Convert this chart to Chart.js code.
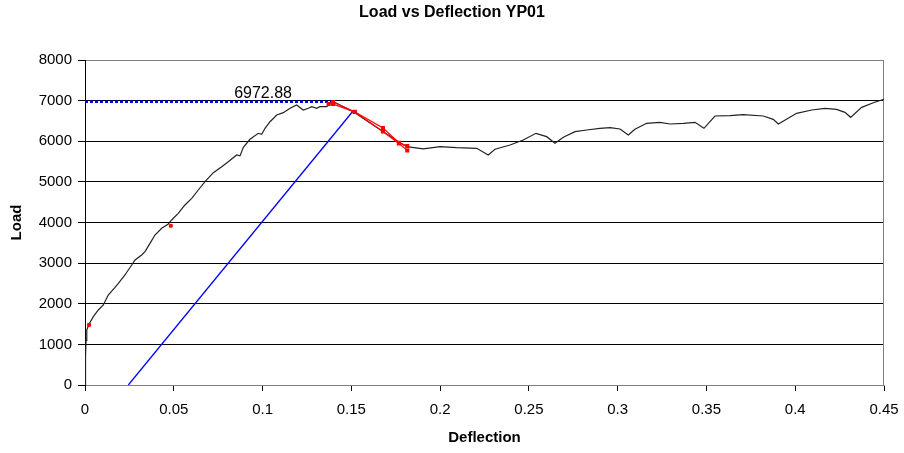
<!DOCTYPE html>
<html>
<head>
<meta charset="utf-8">
<title>Load vs Deflection YP01</title>
<script src="https://cdn.jsdelivr.net/npm/chart.js@4/dist/chart.umd.min.js"></script>
<style>
  html, body { margin: 0; padding: 0; background: #fff; }
  #wrap { width: 904px; height: 453px; position: relative; }
</style>
</head>
<body>
<div id="wrap"><canvas id="c" width="904" height="453"></canvas></div>
<script>
// Measured load-deflection curve for specimen YP01
const deflection = [0, 0.0002, 0.0004, 0.0006, 0.001, 0.0023, 0.0047, 0.0075, 0.0103, 0.0131,
  0.0169, 0.0188, 0.0225, 0.0263, 0.0282, 0.0319, 0.0338, 0.0366, 0.0394, 0.0432,
  0.0469, 0.0488, 0.0525, 0.0563, 0.0601, 0.0638, 0.0676, 0.0723, 0.077, 0.0807,
  0.0854, 0.0873, 0.0892, 0.0929, 0.0976, 0.0995, 0.1014, 0.1042, 0.108, 0.1117,
  0.1155, 0.1192, 0.1229, 0.1258, 0.1277, 0.1305, 0.1323, 0.1361, 0.1399, 0.1511,
  0.168, 0.1765, 0.1812, 0.1905, 0.2, 0.2093, 0.2206, 0.2271, 0.2309, 0.2394,
  0.2468, 0.254, 0.26, 0.2647, 0.2694, 0.276, 0.2826, 0.29, 0.2957, 0.3013,
  0.306, 0.3097, 0.3163, 0.3238, 0.3295, 0.337, 0.3435, 0.3486, 0.3548, 0.3633,
  0.3707, 0.382, 0.3876, 0.3905, 0.4008, 0.4093, 0.4168, 0.4233, 0.428, 0.4312,
  0.4374, 0.444, 0.45];
const load = [0, 250, 700, 1100, 1354, 1500, 1682, 1846, 1969, 2215,
  2404, 2503, 2708, 2954, 3077, 3200, 3282, 3487, 3692, 3857,
  3963, 4062, 4226, 4431, 4595, 4800, 5004, 5226, 5374, 5497,
  5662, 5640, 5851, 6048, 6196, 6170, 6318, 6481, 6646, 6703,
  6811, 6892, 6769, 6811, 6851, 6811, 6851, 6851, 6972.88, 6727,
  6235, 5989, 5866, 5810, 5866, 5842, 5826, 5662, 5802, 5908,
  6031, 6195, 6113, 5949, 6097, 6236, 6277, 6318, 6334, 6302,
  6154, 6294, 6441, 6466, 6425, 6441, 6466, 6318, 6621, 6629,
  6654, 6621, 6540, 6425, 6687, 6769, 6811, 6786, 6712, 6589,
  6835, 6949, 7035];

// Peak load and where it occurs
const peakLoad = 6972.88;
const peakDeflection = 0.1399;
const peakLabelDeflection = 0.1003;

// Elastic-slope offset line
const offsetDeflection = [0.0244, 0.1511];
const offsetLoad = [0, 6750];

// Post-peak fitted points (two passes)
const fitDeflectionA = [0.1372, 0.1397, 0.1519, 0.1678, 0.1768, 0.1815];
const fitLoadA = [6915, 6965, 6725, 6325, 5965, 5880];
const fitDeflectionB = [0.1397, 0.1519, 0.1678, 0.1768, 0.1815];
const fitLoadB = [6915, 6720, 6240, 5945, 5775];

// Isolated marked readings on the rising branch
const markDeflection = [0.0023, 0.0483];
const markLoad = [1480, 3920];

// Axis tick labels
const xTickLabels = ['0', '0.05', '0.1', '0.15', '0.2', '0.25', '0.3', '0.35', '0.4', '0.45'];
const yTickLabels = ['0', '1000', '2000', '3000', '4000', '5000', '6000', '7000', '8000'];

const pts = (xs, ys) => xs.map((x, i) => ({ x: x, y: ys[i] }));
const FONT = "'Liberation Sans', Arial, Helvetica, sans-serif";

// Title, right frame edge and peak value label
const decorations = {
  id: 'decorations',
  beforeDatasetsDraw(chart) {
    const { ctx, chartArea } = chart;
    ctx.save();
    ctx.strokeStyle = '#808080';
    ctx.lineWidth = 1;
    ctx.beginPath();
    ctx.moveTo(Math.round(chartArea.right) - 0.5, chartArea.top);
    ctx.lineTo(Math.round(chartArea.right) - 0.5, chartArea.bottom);
    ctx.stroke();
    ctx.restore();
  },
  afterDraw(chart) {
    const { ctx, scales } = chart;
    ctx.save();
    ctx.fillStyle = '#000';
    ctx.textAlign = 'center';
    ctx.textBaseline = 'middle';
    ctx.font = 'bold 16px ' + FONT;
    ctx.fillText('Load vs Deflection YP01', chart.width / 2, 13);
    ctx.font = '16px ' + FONT;
    ctx.textBaseline = 'alphabetic';
    ctx.fillText(peakLoad.toFixed(2),
      scales.x.getPixelForValue(peakLabelDeflection),
      scales.y.getPixelForValue(peakLoad) - 4);
    ctx.restore();
  }
};

new Chart(document.getElementById('c'), {
  type: 'scatter',
  data: {
    datasets: [
      {
        label: 'Peak level',
        data: [{ x: 0, y: peakLoad }, { x: peakDeflection, y: peakLoad }],
        showLine: true, borderColor: '#0000ff', borderWidth: 2.5, borderDash: [3, 2],
        pointRadius: 0, order: 4
      },
      {
        label: 'Offset line',
        data: pts(offsetDeflection, offsetLoad),
        showLine: true, borderColor: '#0000ff', borderWidth: 1.3,
        pointRadius: 0, order: 3
      },
      {
        label: 'Load',
        data: pts(deflection, load),
        showLine: true, borderColor: '#222', borderWidth: 1.2,
        pointRadius: 0, tension: 0, order: 2
      },
      {
        label: 'Fit A',
        data: pts(fitDeflectionA, fitLoadA),
        showLine: true, borderColor: '#ff0000', borderWidth: 1.2,
        pointStyle: 'rect', pointRadius: 2, pointBackgroundColor: '#ff0000',
        pointBorderColor: '#ff0000', order: 1
      },
      {
        label: 'Fit B',
        data: pts(fitDeflectionB, fitLoadB),
        showLine: true, borderColor: '#ff0000', borderWidth: 1.2,
        pointStyle: 'rect', pointRadius: 2, pointBackgroundColor: '#ff0000',
        pointBorderColor: '#ff0000', order: 1
      },
      {
        label: 'Marks',
        data: pts(markDeflection, markLoad),
        showLine: false,
        pointStyle: 'rect', pointRadius: 2, pointBackgroundColor: '#ff0000',
        pointBorderColor: '#ff0000', order: 1
      }
    ]
  },
  options: {
    responsive: false,
    animation: false,
    devicePixelRatio: 1,
    layout: { padding: { left: 0, right: 20, top: 60, bottom: 0 } },
    plugins: {
      legend: { display: false },
      title: { display: false },
      tooltip: { enabled: false }
    },
    scales: {
      x: {
        type: 'linear',
        min: 0, max: 0.45,
        afterFit(scale) {
          scale.height = 68;
          scale.paddingLeft = 0;
          scale.paddingRight = 0;
        },
        ticks: {
          stepSize: 0.05,
          color: '#000',
          font: { family: FONT, size: 15 },
          padding: 10,
          maxRotation: 0,
          autoSkip: false,
          callback: (v, i) => xTickLabels[i]
        },
        grid: { drawOnChartArea: false, drawTicks: true, tickLength: 6, tickColor: '#000' },
        border: { color: '#808080', width: 1 },
        title: {
          display: true, text: 'Deflection', color: '#000',
          font: { family: FONT, size: 15, weight: 'bold' },
          padding: { top: 0, bottom: 6 }
        }
      },
      y: {
        type: 'linear',
        min: 0, max: 8000,
        afterFit(scale) {
          scale.width = 85;
          scale.paddingTop = 0;
          scale.paddingBottom = 0;
        },
        ticks: {
          stepSize: 1000,
          color: '#000',
          font: { family: FONT, size: 15 },
          padding: 6,
          callback: (v, i) => yTickLabels[i]
        },
        grid: {
          color: (c) => (c.tick && c.tick.value === 8000) ? '#808080' : '#000',
          lineWidth: 1, tickLength: 7, tickColor: '#000'
        },
        border: { color: '#000', width: 1 },
        title: {
          display: true, text: 'Load', color: '#000',
          font: { family: FONT, size: 15, weight: 'bold' },
          padding: { top: 8, bottom: 0 }
        }
      }
    }
  },
  plugins: [decorations]
});
</script>
</body>
</html>
